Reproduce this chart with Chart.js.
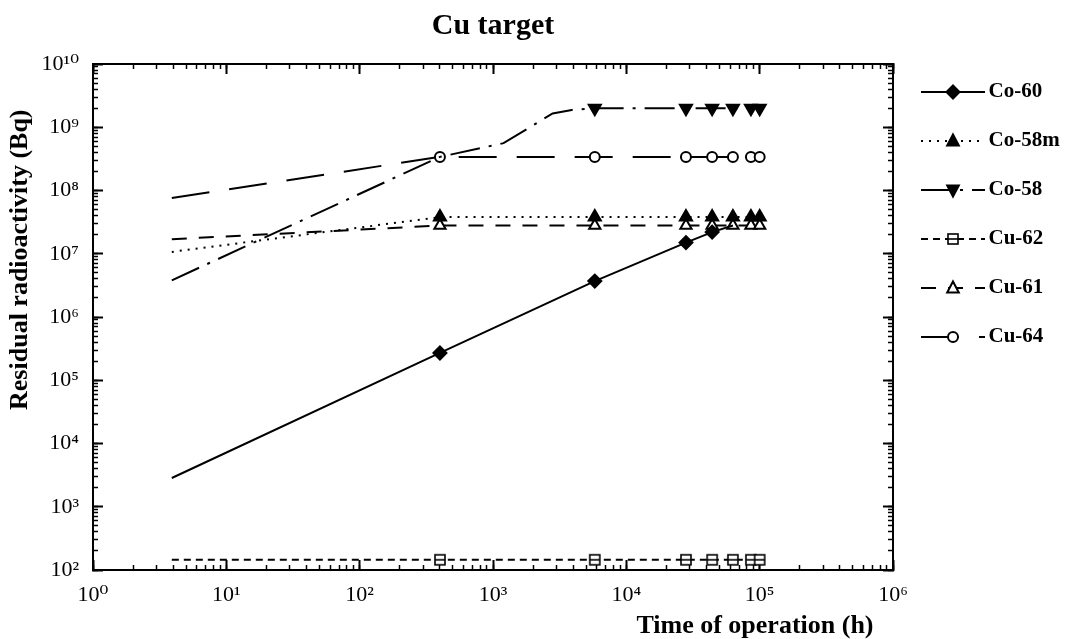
<!DOCTYPE html>
<html><head><meta charset="utf-8">
<script src="https://cdn.jsdelivr.net/npm/chart.js@4.4.0/dist/chart.umd.min.js"></script>
<style>html,body{margin:0;padding:0;background:#fff;}#wrap{width:1069px;height:639px;}</style>
</head><body><div id="wrap"><canvas id="c" width="1069" height="639"></canvas></div>
<script>
// ---------- data ----------
const seriesNames = ['Co-60', 'Co-58m', 'Co-58', 'Cu-62', 'Cu-61', 'Cu-64'];

const timeStd   = [3.9, 400, 5800, 28000, 44000, 63000, 86000, 100000];
const timeCo60  = [3.9, 400, 5800, 28000, 44000, 63000];
const timeCo58  = [3.9, 400, 1200, 2800, 3900, 5800, 28000, 44000, 63000, 86000, 100000];

const valCo60   = [2.85e3, 2.7e5, 3.7e6, 1.5e7, 2.2e7, 2.8e7];
const valCo58m  = [1.07e7, 3.8e7, 3.8e7, 3.8e7, 3.8e7, 3.8e7, 3.8e7, 3.8e7];
const valCo58   = [3.8e6, 3.4e8, 5.6e8, 1.65e9, 1.88e9, 2.0e9, 2.0e9, 2.0e9, 2.0e9, 2.0e9, 2.0e9];
const valCu62   = [145, 145, 145, 145, 145, 145, 145, 145];
const valCu61   = [1.7e7, 2.8e7, 2.8e7, 2.8e7, 2.8e7, 2.8e7, 2.8e7, 2.8e7];
const valCu64   = [7.6e7, 3.4e8, 3.4e8, 3.4e8, 3.4e8, 3.4e8, 3.4e8, 3.4e8];

// which points carry a marker (1) and which are plain line vertices (0)
const markCo60  = [0, 1, 1, 1, 1, 0];
const markCo58  = [0, 0, 0, 0, 0, 1, 1, 1, 1, 1, 1];
const markStd   = [0, 1, 1, 1, 1, 1, 1, 1];

const xDecades    = [1, 10, 100, 1e3, 1e4, 1e5, 1e6];
const xTickLabels = ['10\u2070', '10\u00B9', '10\u00B2', '10\u00B3', '10\u2074', '10\u2075', '10\u2076'];
const yDecades    = [1e2, 1e3, 1e4, 1e5, 1e6, 1e7, 1e8, 1e9, 1e10];
const yTickLabels = ['10\u00B2', '10\u00B3', '10\u2074', '10\u2075', '10\u2076', '10\u2077', '10\u2078', '10\u2079', '10\u00B9\u2070'];

// ---------- styling ----------
const FONT = "'Liberation Serif', 'Times New Roman', serif";
const TICKFONT = "'Liberation Serif', 'DejaVu Serif', serif";
const BLACK = '#000';

function isDecade(v, decades) { return decades.some(d => Math.abs(v / d - 1) < 1e-9); }
function logTicks(decades) {
  const t = [];
  for (let i = 0; i < decades.length - 1; i++) for (let m = 1; m < 10; m++) t.push({ value: decades[i] * m });
  t.push({ value: decades[decades.length - 1] });
  return t;
}

function barSquare() {
  const c = document.createElement('canvas'); c.width = 14; c.height = 14;
  const g = c.getContext('2d');
  g.fillStyle = '#fff'; g.fillRect(2, 2, 10, 10);
  g.strokeStyle = BLACK; g.lineWidth = 1.6; g.strokeRect(2, 2, 10, 10);
  g.beginPath(); g.moveTo(2, 7); g.lineTo(12, 7); g.stroke();
  return c;
}
const barSquareImg = barSquare();

function drawMarker(g, kind, x, y) {
  g.save(); g.setLineDash([]); g.strokeStyle = BLACK; g.lineWidth = 2; g.fillStyle = BLACK;
  g.beginPath();
  if (kind === 'diamond') {
    g.moveTo(x, y - 6.5); g.lineTo(x + 6.5, y); g.lineTo(x, y + 6.5); g.lineTo(x - 6.5, y); g.closePath(); g.fill(); g.stroke();
  } else if (kind === 'triUp' || kind === 'triOpen') {
    g.moveTo(x, y - 6.5); g.lineTo(x + 5.8, y + 4.5); g.lineTo(x - 5.8, y + 4.5); g.closePath();
    if (kind === 'triOpen') { g.fillStyle = '#fff'; }
    g.fill(); g.stroke();
  } else if (kind === 'triDown') {
    g.moveTo(x, y + 6.5); g.lineTo(x + 5.8, y - 4.5); g.lineTo(x - 5.8, y - 4.5); g.closePath(); g.fill(); g.stroke();
  } else if (kind === 'circle') {
    g.arc(x, y, 5, 0, Math.PI * 2); g.fillStyle = '#fff'; g.fill(); g.stroke();
  } else if (kind === 'square') {
    g.drawImage(barSquareImg, x - 7, y - 7);
  }
  g.restore();
}

function legendIcon(dash, kind) {
  const c = document.createElement('canvas'); c.width = 64; c.height = 20;
  const g = c.getContext('2d');
  g.strokeStyle = BLACK; g.lineWidth = 2; g.setLineDash(dash);
  g.beginPath(); g.moveTo(0, 10); g.lineTo(64, 10); g.stroke();
  drawMarker(g, kind, 32, 10);
  return c;
}

const specs = [
  { name: seriesNames[0], t: timeCo60, v: valCo60,  m: markCo60, dash: [],            kind: 'diamond', style: 'rectRot',  rot: 0,   r: 6.5, fill: BLACK },
  { name: seriesNames[1], t: timeStd,  v: valCo58m, m: markStd,  dash: [2, 6],        kind: 'triUp',   style: 'triangle', rot: 0,   r: 7,   fill: BLACK },
  { name: seriesNames[2], t: timeCo58, v: valCo58,  m: markCo58, dash: [30, 9, 3, 9], kind: 'triDown', style: 'triangle', rot: 180, r: 7,   fill: BLACK },
  { name: seriesNames[3], t: timeStd,  v: valCu62,  m: markStd,  dash: [7, 5],        kind: 'square',  style: barSquareImg, rot: 0, r: 6, fill: '#fff' },
  { name: seriesNames[4], t: timeStd,  v: valCu61,  m: markStd,  dash: [15, 12],      kind: 'triOpen', style: 'triangle', rot: 0,   r: 6.5, fill: '#fff' },
  { name: seriesNames[5], t: timeStd,  v: valCu64,  m: markStd,  dash: [38, 20],      kind: 'circle',  style: 'circle',   rot: 0,   r: 5,   fill: '#fff' }
];

const datasets = specs.map(s => ({
  label: s.name,
  data: s.t.map((t, i) => ({ x: t, y: s.v[i] })),
  borderColor: BLACK,
  borderWidth: 2,
  borderDash: s.dash,
  tension: 0,
  fill: false,
  pointStyle: s.style,
  pointRotation: s.rot,
  pointRadius: s.m.map(k => k ? s.r : 0),
  pointHoverRadius: s.m.map(k => k ? s.r : 0),
  pointBackgroundColor: s.fill,
  pointBorderColor: BLACK,
  pointBorderWidth: 2,
  legendIcon: legendIcon(s.dash, s.kind)
}));

// ---------- axes ----------
function majorTickColor(decades) {
  return c => (c.tick && isDecade(c.tick.value, decades)) ? BLACK : 'rgba(0,0,0,0)';
}
function baseAxis(position, decades, min, max, extra) {
  return Object.assign({
    type: 'logarithmic', position, min, max, offset: false,
    afterBuildTicks: s => { s.ticks = logTicks(decades); },
    grid: { display: true, drawOnChartArea: false, drawTicks: true, tickLength: -10, tickWidth: 2, tickColor: majorTickColor(decades) },
    border: { display: true, color: BLACK, width: 2 },
    ticks: { display: false, autoSkip: false, maxRotation: 0 }
  }, extra);
}
function minorAxis(position, decades, min, max, size) {
  return {
    type: 'logarithmic', position, min, max, offset: false, weight: -1,
    afterBuildTicks: s => { s.ticks = logTicks(decades); },
    afterFit: s => { if (s.isHorizontal()) s.height = size; else s.width = size; },
    grid: { display: true, drawOnChartArea: false, drawTicks: true, tickLength: -5, tickWidth: 1.5, tickColor: BLACK },
    border: { display: false },
    ticks: { display: false, autoSkip: false, maxRotation: 0 }
  };
}

const xMin = xDecades[0], xMax = xDecades[xDecades.length - 1];
const yMin = yDecades[0], yMax = yDecades[yDecades.length - 1];

const scales = {
  x: baseAxis('bottom', xDecades, xMin, xMax, {
    afterFit: s => { s.height = 69; },
    ticks: {
      display: true, autoSkip: false, maxRotation: 0, padding: 22, color: BLACK,
      font: { family: TICKFONT, size: 22 },
      callback: v => { const i = xDecades.findIndex(d => Math.abs(v / d - 1) < 1e-9); return i >= 0 ? xTickLabels[i] : ''; }
    },
    title: { display: true, text: 'Time of operation (h)   ', align: 'end', color: BLACK,
      font: { family: FONT, size: 26, weight: 'bold', lineHeight: 1 }, padding: { top: 0, bottom: 0 } }
  }),
  xMinor: minorAxis('bottom', xDecades, xMin, xMax, 0),
  xTop: baseAxis('top', xDecades, xMin, xMax, { afterFit: s => { s.height = 20; } }),
  xTopMinor: minorAxis('top', xDecades, xMin, xMax, 0),
  y: baseAxis('left', yDecades, yMin, yMax, {
    afterFit: s => { s.width = 93; },
    ticks: {
      display: true, autoSkip: false, padding: 24, color: BLACK,
      font: { family: TICKFONT, size: 22 },
      callback: v => { const i = yDecades.findIndex(d => Math.abs(v / d - 1) < 1e-9); return i >= 0 ? yTickLabels[i] : ''; }
    },
    title: { display: true, text: 'Residual radioactivity (Bq)       ', align: 'end', color: BLACK,
      font: { family: FONT, size: 26, weight: 'bold', lineHeight: 1 }, padding: { top: 7, bottom: 0 } }
  }),
  yMinor: minorAxis('left', yDecades, yMin, yMax, 0),
  yRight: baseAxis('right', yDecades, yMin, yMax, { afterFit: s => { s.width = 7; } }),
  yRightMinor: minorAxis('right', yDecades, yMin, yMax, 0)
};

// keep the legend column at a fixed width so the plot edge stays put
const legendWidthFix = {
  id: 'legendWidthFix',
  beforeLayout(chart) {
    const lg = chart.legend;
    if (lg && !lg.__fixed) {
      const orig = lg.fit;
      lg.fit = function () { orig.call(this); this.width = 169; };
      lg.__fixed = true;
    }
  }
};

new Chart(document.getElementById('c'), {
  type: 'line',
  data: { datasets },
  plugins: [legendWidthFix],
  options: {
    responsive: false,
    animation: false,
    events: [],
    layout: { padding: 0 },
    scales,
    plugins: {
      tooltip: { enabled: false },
      title: {
        display: true, text: 'Cu target', fullSize: false, color: BLACK,
        font: { family: FONT, size: 30, weight: 'bold' }, padding: { top: 8, bottom: 0 }
      },
      legend: {
        display: true, position: 'right', align: 'start', fullSize: true,
        title: { display: true, text: '', font: { size: 10, lineHeight: 1 }, padding: { top: 43.5, bottom: 0 } },
        labels: {
          usePointStyle: true, pointStyleWidth: 50, padding: 28, color: BLACK,
          font: { family: FONT, size: 21, weight: 'bold' },
          generateLabels: chart => chart.data.datasets.map((ds, i) => ({
            text: ds.label, datasetIndex: i, pointStyle: ds.legendIcon,
            fillStyle: BLACK, strokeStyle: BLACK, lineWidth: 0, hidden: false, fontColor: BLACK
          }))
        }
      }
    }
  }
});
</script>
</body></html>
